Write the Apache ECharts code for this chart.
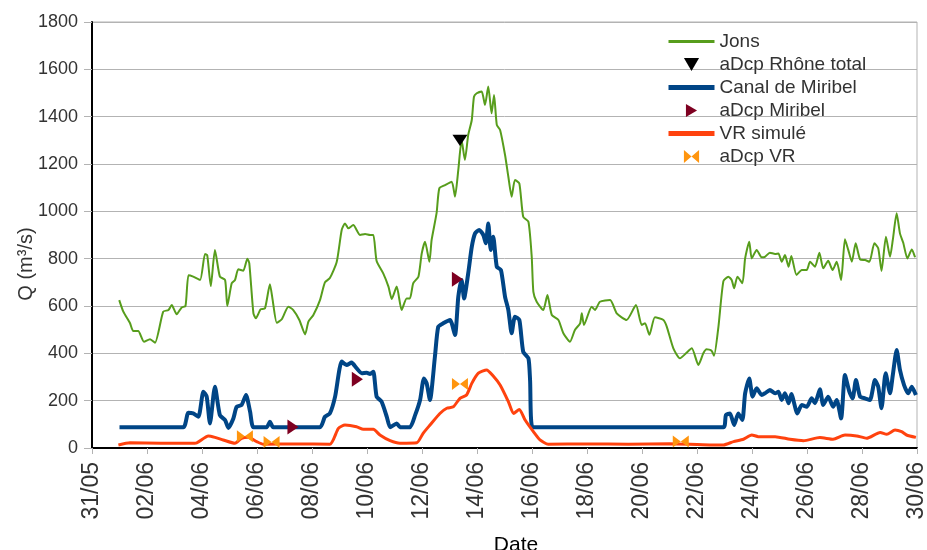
<!DOCTYPE html>
<html>
<head>
<meta charset="utf-8">
<script src="https://cdn.jsdelivr.net/npm/echarts@6/dist/echarts.min.js"></script>
<style>
  html, body { margin: 0; padding: 0; background: #fff; }
  #chart { width: 927px; height: 550px; }
</style>
</head>
<body>
<div id="chart"></div>
<script>
// x = days after 31/05, y = Q (m3/s)
var xTicks = ['31/05','02/06','04/06','06/06','08/06','10/06','12/06','14/06','16/06','18/06','20/06','22/06','24/06','26/06','28/06','30/06'];

var jons = [
  [0.99,625],[1.14,576],[1.38,528],[1.50,494],[1.68,494],[1.89,449],[2.11,460],[2.29,445],[2.59,576],[2.78,583],
  [2.90,604],[3.08,565],[3.26,594],[3.40,600],[3.51,730],[3.68,724],[3.93,710],[4.11,820],[4.19,815],[4.32,684],
  [4.47,837],[4.65,724],[4.84,710],[4.92,600],[5.08,696],[5.20,710],[5.32,755],[5.50,749],[5.65,800],[5.72,780],
  [5.87,569],[5.96,548],[6.13,586],[6.29,590],[6.47,692],[6.57,625],[6.72,529],[6.90,544],[7.14,597],[7.32,583],
  [7.54,541],[7.75,480],[7.87,534],[8.05,562],[8.29,625],[8.47,700],[8.65,718],[8.90,787],[9.08,921],[9.20,949],
  [9.32,928],[9.50,942],[9.75,900],[9.93,904],[10.11,900],[10.23,900],[10.35,790],[10.59,738],[10.78,682],[10.90,630],
  [11.08,682],[11.26,583],[11.44,632],[11.56,632],[11.68,696],[11.87,724],[11.99,822],[12.11,872],[12.27,787],[12.35,879],
  [12.53,992],[12.63,1097],[12.84,1111],[13.08,1125],[13.20,1062],[13.32,1175],[13.44,1301],[13.56,1217],[13.68,1322],[13.81,1386],
  [13.89,1484],[13.99,1499],[14.17,1506],[14.29,1449],[14.41,1527],[14.53,1414],[14.62,1492],[14.72,1365],[14.84,1344],[15.02,1238],
  [15.14,1146],[15.26,1062],[15.38,1132],[15.54,1118],[15.68,977],[15.87,956],[15.99,808],[16.05,660],[16.17,618],[16.41,583],
  [16.56,646],[16.72,562],[16.96,541],[17.14,485],[17.38,449],[17.56,499],[17.75,527],[17.81,569],[17.89,520],[18.17,597],
  [18.29,583],[18.47,618],[18.84,625],[19.08,569],[19.44,541],[19.78,604],[19.99,520],[20.11,527],[20.27,478],[20.47,552],
  [20.78,541],[20.90,513],[21.14,421],[21.38,379],[21.60,400],[21.81,421],[22.05,351],[22.23,400],[22.35,417],[22.53,411],
  [22.62,390],[22.78,513],[22.96,705],[23.14,724],[23.26,710],[23.35,675],[23.47,724],[23.65,696],[23.75,801],[23.90,872],
  [23.99,801],[24.17,837],[24.35,806],[24.47,808],[24.65,825],[24.84,820],[24.96,822],[25.08,787],[25.20,815],[25.33,766],
  [25.43,811],[25.62,731],[25.81,752],[25.99,752],[26.11,787],[26.29,766],[26.45,825],[26.59,759],[26.77,791],[26.93,752],
  [27.08,787],[27.24,710],[27.38,882],[27.50,837],[27.63,787],[27.77,865],[27.93,797],[28.11,794],[28.27,787],[28.45,865],
  [28.59,844],[28.71,748],[28.87,893],[29.02,808],[29.12,879],[29.26,992],[29.38,907],[29.50,867],[29.65,801],[29.81,839],
  [29.93,806]
];

var miribel = [
  [1.00,88],[3.32,88],[3.50,149],[3.68,146],[3.87,132],[4.05,238],[4.17,217],[4.29,104],[4.47,259],[4.65,139],
  [4.84,118],[4.96,85],[5.14,125],[5.26,174],[5.44,182],[5.60,224],[5.75,153],[5.87,88],[6.35,88],[6.47,111],
  [6.59,88],[8.29,88],[8.47,132],[8.65,146],[8.84,217],[9.08,365],[9.26,351],[9.44,361],[9.62,337],[9.81,316],
  [9.99,318],[10.11,313],[10.23,322],[10.35,217],[10.53,196],[10.72,132],[10.84,88],[11.08,104],[11.20,88],[11.56,88],
  [11.75,139],[11.93,203],[12.07,294],[12.17,273],[12.29,203],[12.47,386],[12.59,512],[12.77,527],[13.02,541],[13.20,477],
  [13.32,639],[13.44,710],[13.53,632],[13.68,738],[13.81,850],[13.93,907],[14.08,921],[14.23,900],[14.32,865],[14.41,949],
  [14.50,837],[14.59,893],[14.72,766],[14.87,752],[15.02,639],[15.14,583],[15.26,485],[15.38,555],[15.54,541],[15.68,407],
  [15.87,379],[15.93,287],[16.02,88],[22.96,88],[23.05,139],[23.20,146],[23.35,97],[23.50,146],[23.65,118],[23.75,231],
  [23.90,294],[24.02,217],[24.17,252],[24.35,224],[24.47,231],[24.65,245],[24.84,231],[24.96,238],[25.08,203],[25.20,231],
  [25.33,189],[25.43,228],[25.65,146],[25.81,182],[25.99,174],[26.17,210],[26.29,189],[26.47,248],[26.59,182],[26.77,217],
  [26.95,174],[27.08,203],[27.24,125],[27.38,308],[27.54,238],[27.66,210],[27.78,287],[27.93,217],[28.11,210],[28.29,203],
  [28.47,287],[28.59,259],[28.71,168],[28.86,316],[29.02,231],[29.12,308],[29.26,414],[29.38,330],[29.53,266],[29.68,231],
  [29.81,259],[29.96,224]
];

var vrSimule = [
  [0.96,13],[1.38,22],[2.50,20],[3.56,20],[3.81,22],[4.23,51],[4.47,45],[4.77,34],[5.20,20],[5.44,41],
  [5.69,45],[5.99,27],[6.23,16],[7.50,17],[8.65,16],[8.96,83],[9.20,97],[9.62,90],[9.87,79],[10.23,79],
  [10.47,55],[10.84,31],[11.20,20],[11.81,22],[12.04,62],[12.29,97],[12.65,146],[12.90,168],[13.14,174],[13.38,210],
  [13.62,224],[13.81,273],[14.05,316],[14.35,330],[14.59,304],[14.84,266],[15.14,196],[15.33,146],[15.54,163],[15.75,118],
  [16.05,69],[16.29,34],[16.59,16],[18.00,17],[19.50,16],[21.00,18],[22.47,13],[22.96,13],[23.33,27],[23.69,37],
  [23.99,55],[24.23,48],[24.84,48],[25.38,37],[25.87,31],[26.47,44],[26.95,37],[27.38,55],[27.81,51],[28.17,41],
  [28.66,66],[28.90,58],[29.20,76],[29.44,69],[29.62,55],[29.96,45]
];

var adcpRhone = [[13.38,1300]];
var adcpMiribel = [[7.31,89],[9.65,291],[13.29,713]];
var adcpVR = [[5.56,50],[6.53,25],[13.38,270],[21.41,27]];

var font = 'Liberation Sans';
var downTri = 'path://M0,0L14,0L7,12Z';
var rightTri = 'path://M0,0L12,7L0,14Z';
var bowtie = 'path://M0,0L7,6L0,12ZM14,0L7,6L14,12Z';

var chart = echarts.init(document.getElementById('chart'), null, { renderer: 'canvas' });

// legend entries for lines: hide the symbol, keep the line
var lineItem = function (name, w) {
  return { name: name, itemStyle: { opacity: 0 }, lineStyle: { width: w } };
};

var option = {
  animation: false,
  textStyle: { fontFamily: font },
  grid: {
    left: 92, right: 10, top: 22, bottom: 102,
    containLabel: false, outerBoundsMode: 'none',
    show: true, borderColor: '#b3b3b3', borderWidth: 1
  },
  legend: {
    orient: 'vertical',
    left: 661, top: 27,
    itemWidth: 46, itemHeight: 13, itemGap: 4,
    symbolKeepAspect: true,
    textStyle: { fontSize: 19, color: '#333', fontFamily: font },
    data: [
      lineItem('Jons', 3), 'aDcp Rhône total',
      lineItem('Canal de Miribel', 5), 'aDcp Miribel',
      lineItem('VR simulé', 5), 'aDcp VR'
    ]
  },
  xAxis: {
    type: 'value',
    min: 0, max: 30, interval: 2,
    name: 'Date',
    nameLocation: 'middle',
    nameGap: 87,
    nameMoveOverlap: false,
    nameTextStyle: { fontSize: 21, color: '#000', padding: [0, 0, 0, 23] },
    axisLine: { onZero: false, lineStyle: { color: '#000', width: 2 } },
    axisTick: { show: true, length: 6, lineStyle: { color: '#b3b3b3' } },
    splitLine: { show: false },
    axisLabel: {
      rotate: 90, fontSize: 23, color: '#333', margin: 14,
      formatter: function (v) { return xTicks[Math.round(v / 2)]; }
    }
  },
  yAxis: {
    type: 'value',
    min: 0, max: 1800, interval: 200,
    name: 'Q (m³/s)',
    nameLocation: 'middle',
    nameGap: 56,
    nameMoveOverlap: false,
    nameTextStyle: { fontSize: 20, color: '#333', padding: [0, 58, 0, 0] },
    axisLine: { show: true, lineStyle: { color: '#000', width: 2 } },
    axisTick: { show: true, length: 8, lineStyle: { color: '#b3b3b3' } },
    splitLine: { lineStyle: { color: '#b3b3b3', width: 1 } },
    axisLabel: { fontSize: 18, color: '#333', margin: 14, formatter: function (v) { return String(v); } }
  },
  series: [
    { name: 'Jons', type: 'line', data: jons, symbol: 'none', smooth: 0.2,
      lineStyle: { color: '#579d1c', width: 2 }, itemStyle: { color: '#579d1c' }, z: 2 },
    { name: 'aDcp Rhône total', type: 'scatter', data: adcpRhone, symbol: downTri,
      symbolKeepAspect: true, symbolSize: [15, 13], itemStyle: { color: '#000', opacity: 1 }, z: 5 },
    { name: 'Canal de Miribel', type: 'line', data: miribel, symbol: 'none', smooth: 0.2,
      lineStyle: { color: '#004586', width: 4 }, itemStyle: { color: '#004586' }, z: 3 },
    { name: 'aDcp Miribel', type: 'scatter', data: adcpMiribel, symbol: rightTri,
      symbolKeepAspect: true, symbolSize: [13, 15], itemStyle: { color: '#7e0021', opacity: 1 }, z: 5 },
    { name: 'VR simulé', type: 'line', data: vrSimule, symbol: 'none', smooth: 0.2,
      lineStyle: { color: '#ff420e', width: 3 }, itemStyle: { color: '#ff420e' }, z: 4 },
    { name: 'aDcp VR', type: 'scatter', data: adcpVR, symbol: bowtie,
      symbolKeepAspect: true, symbolSize: [16, 14], itemStyle: { color: '#ff950e', opacity: 1 }, z: 5 }
  ]
};
chart.setOption(option);
</script>
</body>
</html>
